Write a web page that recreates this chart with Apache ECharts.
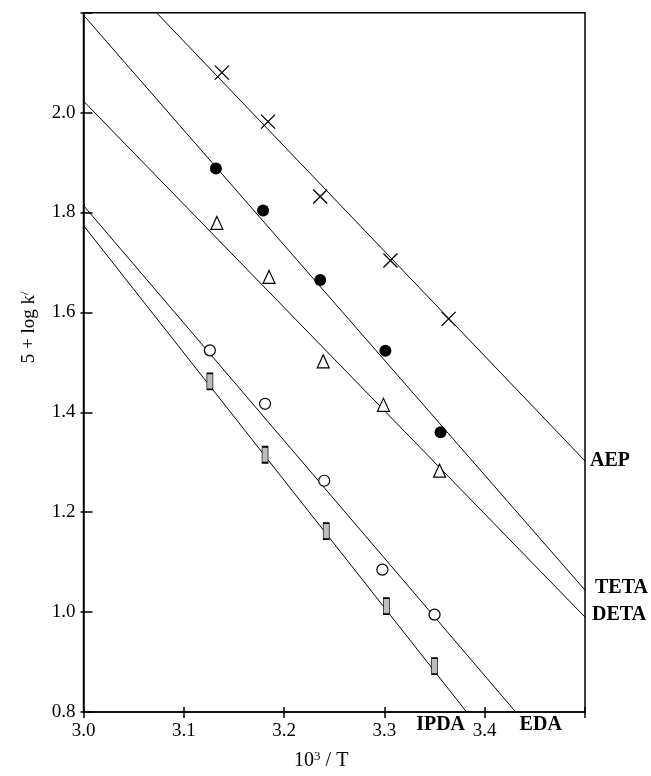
<!DOCTYPE html>
<html>
<head>
<meta charset="utf-8">
<script src="https://cdn.jsdelivr.net/npm/echarts@6/dist/echarts.min.js"></script>
<style>
html,body{margin:0;padding:0;background:#fff;}
#c{width:651px;height:776px;}
</style>
</head>
<body>
<div id="c"></div>
<script>
// ---- data ----
const xTicks = [3.0, 3.1, 3.2, 3.3, 3.4, 3.5];
const yTicks = [0.8, 1.0, 1.2, 1.4, 1.6, 1.8, 2.0, 2.2];

const aepX  = [3.138, 3.184, 3.236, 3.306, 3.364];
const aepY  = [2.080, 1.982, 1.832, 1.704, 1.587];
const tetaX = [3.132, 3.179, 3.236, 3.301, 3.356];
const tetaY = [1.888, 1.804, 1.665, 1.523, 1.360];
const detaX = [3.133, 3.185, 3.239, 3.299, 3.355];
const detaY = [1.779, 1.671, 1.502, 1.415, 1.283];
const edaX  = [3.126, 3.181, 3.240, 3.298, 3.350];
const edaY  = [1.524, 1.417, 1.263, 1.085, 0.995];
const ipdaX = [3.126, 3.181, 3.242, 3.302, 3.350];
const ipdaY = [1.462, 1.315, 1.162, 1.012, 0.892];

// fitted lines: value at x = 3.0 and slope
const lineNames = ['AEP', 'TETA', 'DETA', 'EDA', 'IPDA'];
const lineY300  = [2.353, 2.195, 2.023, 1.814, 1.774];
const lineSlope = [-2.101, -2.302, -2.066, -2.353, -2.550];

// ---- build chart ----
const X0 = xTicks[0], X1 = xTicks[xTicks.length - 1];
const Y0 = yTicks[0], Y1 = yTicks[yTicks.length - 1];
const FONT = "'Liberation Serif','Times New Roman',serif";

function zip(xs, ys) { return xs.map((x, i) => [x, ys[i]]); }

function segment(b, m) {
  let xa = X0, ya = b;
  if (ya > Y1) { xa = X0 + (Y1 - b) / m; ya = Y1; }
  let xb = X1, yb = b + m * (X1 - X0);
  if (yb < Y0) { xb = X0 + (Y0 - b) / m; yb = Y0; }
  return [[xa, ya], [xb, yb]];
}

// label placement style per line (offset in px from line end)
const labelStyle = {
  AEP:  { align: 'left',   offset: [5, 0] },
  TETA: { align: 'left',   offset: [10, -2.5] },
  DETA: { align: 'left',   offset: [7, -2.5] },
  EDA:  { align: 'center', offset: [25, 13] },
  IPDA: { align: 'center', offset: [-26, 13] }
};

const series = [];
lineNames.forEach((name, i) => {
  const seg = segment(lineY300[i], lineSlope[i]);
  series.push({
    type: 'line', name: name, data: seg, symbol: 'none', silent: true,
    lineStyle: { color: '#000', width: 1 }, clip: true, z: 1
  });
  series.push({
    type: 'scatter', name: name + '-label', data: [seg[1]], silent: true,
    symbol: 'circle', symbolSize: 0, itemStyle: { color: '#000', opacity: 1 },
    label: {
      show: true, position: [0, 0], formatter: name,
      align: labelStyle[name].align, verticalAlign: 'middle',
      offset: labelStyle[name].offset,
      fontFamily: FONT, fontWeight: 'bold', fontSize: 20, color: '#000',
      textBorderWidth: 0, opacity: 1
    }, z: 5
  });
});

const markerCommon = { type: 'scatter', z: 4, silent: true };
series.push(Object.assign({}, markerCommon, {
  name: 'AEP pts', data: zip(aepX, aepY),
  symbol: 'path://M0 0 L12 12 M12 0 L0 12', symbolSize: 14,
  itemStyle: { color: 'none', borderColor: '#000', borderWidth: 1.3, opacity: 1 }
}));
series.push(Object.assign({}, markerCommon, {
  name: 'TETA pts', data: zip(tetaX, tetaY),
  symbol: 'circle', symbolSize: 12,
  itemStyle: { color: '#000', opacity: 1 }
}));
series.push(Object.assign({}, markerCommon, {
  name: 'DETA pts', data: zip(detaX, detaY),
  symbol: 'triangle', symbolSize: [12, 13],
  itemStyle: { color: '#fff', borderColor: '#000', borderWidth: 1.2, opacity: 1 }
}));
series.push(Object.assign({}, markerCommon, {
  name: 'EDA pts', data: zip(edaX, edaY),
  symbol: 'circle', symbolSize: 11,
  itemStyle: { color: '#fff', borderColor: '#000', borderWidth: 1.2, opacity: 1 }
}));
series.push(Object.assign({}, markerCommon, {
  name: 'IPDA pts', data: zip(ipdaX, ipdaY),
  symbol: 'rect', symbolSize: [6, 16],
  itemStyle: { color: '#bdbdbd', borderColor: '#000', borderWidth: 1.1, opacity: 1 }
}));

const fmt1 = v => v.toFixed(1);

const option = {
  backgroundColor: '#fff',
  animation: false,
  grid: {
    left: 83.5, top: 12.7, right: 66, bottom: 60.3,
    show: true, borderColor: '#000', borderWidth: 1.5, backgroundColor: 'transparent'
  },
  xAxis: [{
    type: 'value', min: X0, max: X1, interval: 0.1, position: 'bottom',
    axisLine: { show: true, lineStyle: { color: '#000', width: 1.5 } },
    axisTick: { show: true, inside: true, length: 5, lineStyle: { color: '#000', width: 1.5 } },
    splitLine: { show: false },
    axisLabel: {
      margin: 10, color: '#000', fontFamily: FONT, fontSize: 19,
      formatter: v => (Math.abs(v - X1) < 1e-6 ? '' : fmt1(v))
    },
    name: '{a|10}{s|3}{a| / T}', nameLocation: 'middle', nameGap: 38,
    nameTextStyle: {
      color: '#000', fontFamily: FONT, fontSize: 20, padding: [0, 26, 0, 0],
      rich: {
        a: { fontFamily: FONT, fontSize: 20, color: '#000', lineHeight: 22 },
        s: { fontFamily: FONT, fontSize: 13, color: '#000', verticalAlign: 'top', lineHeight: 22 }
      }
    }
  }, {
    type: 'value', min: X0, max: X1, interval: 0.1, position: 'bottom',
    axisLine: { show: false },
    axisTick: { show: true, inside: false, length: 6, lineStyle: { color: '#000', width: 1.5 } },
    splitLine: { show: false }, axisLabel: { show: false }
  }],
  yAxis: [{
    type: 'value', min: Y0, max: Y1, interval: 0.2, position: 'left',
    axisLine: { show: true, lineStyle: { color: '#000', width: 1.5 } },
    axisTick: { show: true, inside: true, length: 9, lineStyle: { color: '#000', width: 1.5 } },
    splitLine: { show: false },
    axisLabel: {
      margin: 8, color: '#000', fontFamily: FONT, fontSize: 19,
      formatter: v => (Math.abs(v - Y1) < 1e-6 ? '' : fmt1(v))
    },
    name: '{a|5 + log k}{s|/}', nameLocation: 'middle', nameGap: 43,
    nameTextStyle: {
      color: '#000', fontFamily: FONT, fontSize: 19, padding: [0, 0, 0, 70],
      rich: {
        a: { fontFamily: FONT, fontSize: 19, color: '#000', lineHeight: 22 },
        s: { fontFamily: FONT, fontSize: 13, color: '#000', verticalAlign: 'top', lineHeight: 22 }
      }
    }
  }, {
    type: 'value', min: Y0, max: Y1, interval: 0.2, position: 'left',
    axisLine: { show: false },
    axisTick: { show: true, inside: false, length: 3, lineStyle: { color: '#000', width: 1.5 } },
    splitLine: { show: false }, axisLabel: { show: false }
  }],
  series: series
};

const chart = echarts.init(document.getElementById('c'), null, { renderer: 'canvas' });
chart.setOption(option);
</script>
</body>
</html>
